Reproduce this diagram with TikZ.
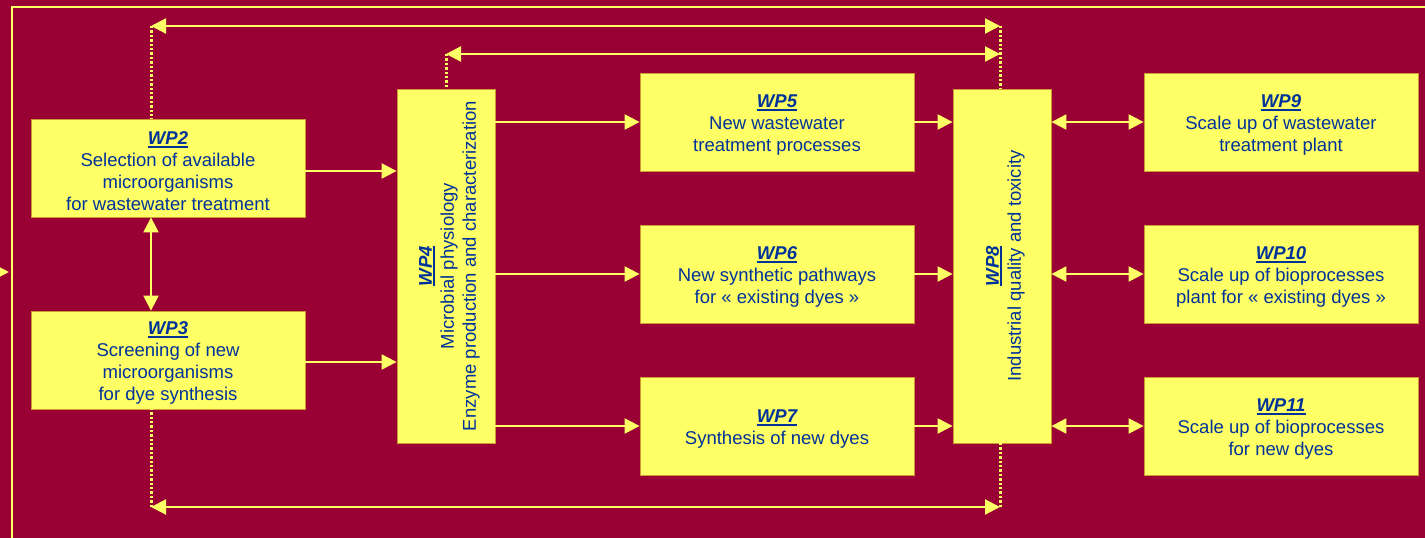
\documentclass[tikz,border=0pt]{standalone}
\usepackage{fontspec}
\setmainfont{Liberation Sans}
\usetikzlibrary{positioning,arrows.meta,calc}

\definecolor{wine}{RGB}{153,0,51}
\definecolor{pale}{RGB}{255,255,102}
\definecolor{ink}{RGB}{0,51,153}
\definecolor{rim}{RGB}{204,153,51}

\newcommand\wplabel[1]{\rule{0pt}{19.5pt}\setbox0\hbox{\bfseries\itshape #1}\rlap{\rule[-3pt]{\wd0}{1.8pt}}\box0}

\begin{document}
\begin{tikzpicture}[x=1pt, y=-1pt,
  wpbox/.style={draw=rim, line width=0.8pt, fill=pale, text=ink, align=center,
                inner sep=0pt, minimum width=274pt, minimum height=98pt,
                font=\fontsize{18.5}{22}\selectfont},
  tallbox/.style={wpbox, minimum width=98pt, minimum height=354pt},
  upright/.style={text=ink, align=center, rotate=90, font=\fontsize{18.5}{22}\selectfont},
  arrow/.style={-{Triangle[length=15pt, width=15pt]}, draw=pale, line width=2.2pt},
  both/.style={{Triangle[length=15pt, width=15pt]}-{Triangle[length=15pt, width=15pt]}, draw=pale, line width=2.2pt},
  dots/.style={draw=pale, line width=3pt, dash pattern=on 2.4pt off 2pt}
]

\fill[wine] (0,0) rectangle (1425,538);
\useasboundingbox (0,0) rectangle (1425,538);
\clip (0,0) rectangle (1425,538);

\draw[pale, line width=2.6pt] (12,540) -- (12,7) -- (1427,7);

\node[wpbox] (wp2) at (168,168) {\wplabel{WP2}\\Selection of available\\microorganisms\\for wastewater treatment};
\node[wpbox] (wp3) at (168,360) {\wplabel{WP3}\\Screening of new\\microorganisms\\for dye synthesis};
\node[tallbox] (wp4) at (446,266) {};
\node[upright] (wp4text) at (wp4.center) {\wplabel{WP4}\\Microbial physiology\\Enzyme production and characterization};
\node[wpbox] (wp5) at (777,122) {\wplabel{WP5}\\New wastewater\\treatment processes};
\node[wpbox] (wp6) at (777,274) {\wplabel{WP6}\\New synthetic pathways\\for « existing dyes »};
\node[wpbox] (wp7) at (777,426) {\wplabel{WP7}\\Synthesis of new dyes};
\node[tallbox] (wp8) at (1002,266) {};
\node[upright] (wp8text) at (wp8.center) {\wplabel{WP8}\\Industrial quality and toxicity};
\node[wpbox] (wp9) at (1281,122) {\wplabel{WP9}\\Scale up of wastewater\\treatment plant};
\node[wpbox] (wp10) at (1281,274) {\wplabel{WP10}\\Scale up of bioprocesses\\plant for « existing dyes »};
\node[wpbox] (wp11) at (1281,426) {\wplabel{WP11}\\Scale up of bioprocesses\\for new dyes};

\coordinate (ltop) at (151,26);
\coordinate (rtop) at (1000,26);
\coordinate (lmid) at (446,54);
\coordinate (rmid) at (1000,54);
\coordinate (lbot) at (151,507);
\coordinate (rbot) at (1000,507);
\coordinate (feedin) at (-20,272);
\coordinate (frame) at (9,272);

\draw[dots] (ltop) -- (ltop |- wp2.north);
\draw[dots] (rtop) -- (rtop |- wp8.north);
\draw[dots] (lmid) -- (lmid |- wp4.north);
\draw[dots] (lbot) -- (lbot |- wp3.south);
\draw[dots] (rbot) -- (rbot |- wp8.south);

\draw[both] (ltop) -- (rtop);
\draw[both] (lmid) -- (rmid);
\draw[both] (lbot) -- (rbot);
\draw[both] (ltop |- wp2.south) -- (ltop |- wp3.north);

\draw[arrow] (feedin) -- (frame);
\draw[arrow] ($(wp2.east)+(0,3)$) -- ($(wp2.east -| wp4.west)+(0,3)$);
\draw[arrow] ($(wp3.east)+(0,2)$) -- ($(wp3.east -| wp4.west)+(0,2)$);

\draw[arrow] (wp4.east |- wp5.west) -- (wp5.west);
\draw[arrow] (wp4.east |- wp6.west) -- (wp6.west);
\draw[arrow] (wp4.east |- wp7.west) -- (wp7.west);

\draw[arrow] (wp5.east) -- (wp5.east -| wp8.west);
\draw[arrow] (wp6.east) -- (wp6.east -| wp8.west);
\draw[arrow] (wp7.east) -- (wp7.east -| wp8.west);

\draw[both] (wp8.east |- wp9.west) -- (wp9.west);
\draw[both] (wp8.east |- wp10.west) -- (wp10.west);
\draw[both] (wp8.east |- wp11.west) -- (wp11.west);

\end{tikzpicture}
\end{document}
